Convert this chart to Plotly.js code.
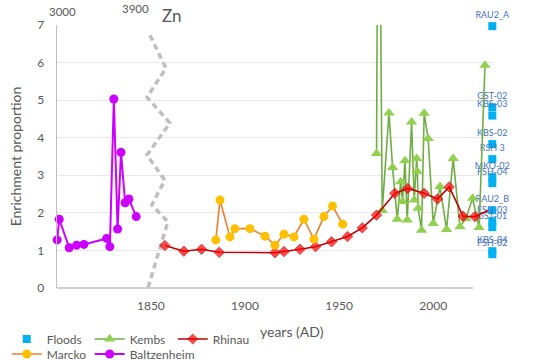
<!DOCTYPE html>
<html>
<head>
<meta charset="utf-8">
<script src="https://cdn.plot.ly/plotly-3.0.1.min.js"></script>
<style>
html,body{margin:0;padding:0;background:#ffffff;}
#chart{width:544px;height:362px;}
</style>
</head>
<body>
<div id="chart"></div>
<script>
// ---- data ----
const xTickVals = [1850, 1900, 1950, 2000];
const xTickText = ['1850', '1900', '1950', '2000'];
const yTickVals = [0, 1, 2, 3, 4, 5, 6, 7];

const floodYear = [2031.4, 2031.4, 2031.4, 2031.4, 2031.4, 2031.4, 2031.4, 2031.4, 2031.4, 2031.4, 2031.4, 2031.4];
const floodVal = [6.97, 4.81, 4.59, 3.83, 3.43, 2.95, 2.79, 2.07, 1.78, 1.62, 0.98, 0.90];
const floodLabel = ['RAU2_A', 'GST-02', 'KBS-03', 'KBS-02', 'RSH 3', 'MKO-02', 'FSH-04', 'RAU2_B', 'FSH-03', 'GST-01', 'KBS-04', 'FSH-02'];

const kembsYear = [1969.9, 1970.9, 1972.9, 1976.5, 1978.4, 1980.9, 1982.7, 1983.7, 1985.0, 1986.2, 1988.5, 1989.9, 1991.2, 1991.6, 1992.0, 1993.8, 1995.2, 1997.3, 2000.0, 2003.6, 2007.1, 2010.6, 2014.2, 2017.4, 2020.9, 2024.4, 2027.5];
const kembsVal = [3.58, 15.0, 2.06, 4.66, 3.21, 1.83, 2.83, 2.30, 3.39, 1.81, 4.42, 2.34, 3.45, 3.10, 2.12, 1.54, 4.65, 3.98, 1.72, 2.70, 1.56, 3.45, 1.63, 1.85, 2.39, 1.61, 5.93];

const rhinauYear = [1857.4, 1867.5, 1876.9, 1886.3, 1915.9, 1920.7, 1929.2, 1937.5, 1946.0, 1954.5, 1962.3, 1969.9, 1979.6, 1986.4, 1995.2, 2002.3, 2008.5, 2015.9, 2022.2, 2029.1];
const rhinauVal = [1.13, 0.98, 1.03, 0.95, 0.94, 0.97, 1.03, 1.10, 1.23, 1.37, 1.60, 1.94, 2.52, 2.65, 2.52, 2.37, 2.69, 1.91, 1.90, 2.06];

const marckoYear = [1884.5, 1886.7, 1892.0, 1894.6, 1902.6, 1910.6, 1915.9, 1920.7, 1926.0, 1931.3, 1936.6, 1941.9, 1946.5, 1951.9];
const marckoVal = [1.28, 2.34, 1.36, 1.58, 1.58, 1.38, 1.14, 1.43, 1.36, 1.83, 1.30, 1.90, 2.18, 1.70];

const baltzYear = [1800.2, 1801.3, 1806.6, 1810.5, 1814.4, 1826.5, 1828.2, 1830.3, 1832.3, 1834.1, 1836.3, 1838.3, 1842.2];
const baltzVal = [1.28, 1.83, 1.07, 1.14, 1.16, 1.32, 1.10, 5.03, 1.57, 3.61, 2.27, 2.37, 1.90];

// axis-break zigzag (decorative)
const breakYear = [1849.5, 1858.0, 1847.9, 1860.1, 1847.9, 1857.4, 1850.5, 1859.0, 1848.4];
const breakVal = [6.73, 5.85, 5.08, 4.39, 3.54, 2.87, 2.21, 1.76, 0.0];

const topLabels = ['3000', '3900'];

// ---- chart ----
const FONT = 'Lato, "Open Sans", "Liberation Sans", sans-serif';
const GREY = '#595959';

const traces = [
  {
    x: breakYear, y: breakVal, mode: 'lines', showlegend: false, hoverinfo: 'skip',
    line: {color: '#BFBFBF', width: 3.5, dash: '6px,4px'}
  },
  {
    name: 'Floods', legend: 'legend', x: floodYear, y: floodVal, text: floodLabel,
    mode: 'markers+text', textposition: 'top center',
    textfont: {family: FONT, size: 9, color: '#4472C4'},
    marker: {symbol: 'square', size: 8, color: '#00B0F0'},
    cliponaxis: false
  },
  {
    name: 'Kembs', legend: 'legend2', x: kembsYear, y: kembsVal, mode: 'lines+markers',
    line: {color: '#70AD47', width: 1.6},
    marker: {symbol: 'triangle-up', size: 10, color: '#92D050'}
  },
  {
    name: 'Rhinau', legend: 'legend3', x: rhinauYear, y: rhinauVal, mode: 'lines+markers',
    line: {color: '#C00000', width: 1.6},
    marker: {symbol: 'diamond', size: rhinauYear.map((_, i) => i === rhinauYear.length - 1 ? 0 : 8), color: '#FF0000'}
  },
  {
    name: 'Marcko', legend: 'legend4', x: marckoYear, y: marckoVal, mode: 'lines+markers',
    line: {color: '#ED7D31', width: 1.6},
    marker: {symbol: 'circle', size: 9, color: '#FFC000'}
  },
  {
    name: 'Baltzenheim', legend: 'legend5', x: baltzYear, y: baltzVal, mode: 'lines+markers',
    line: {color: '#CC00FF', width: 2},
    marker: {symbol: 'circle', size: 9, color: '#CC00FF'},
    cliponaxis: false
  }
];

const legendBase = {
  orientation: 'h', xanchor: 'left', yanchor: 'top',
  font: {family: FONT, size: 12, color: GREY},
  bgcolor: 'rgba(0,0,0,0)', borderwidth: 0, itemwidth: 30
};
const ROW1 = -0.139, ROW2 = -0.196;
const COL1 = -0.115, COL2 = 0.0748, COL3 = 0.2648;

const layout = {
  width: 544, height: 362,
  margin: {l: 57, r: 50, t: 25, b: 74, autoexpand: false},
  paper_bgcolor: '#ffffff', plot_bgcolor: '#ffffff',
  font: {family: FONT, color: GREY, size: 12},
  showlegend: true,
  xaxis: {
    range: [1800.1, 2032.3], tickvals: xTickVals, ticktext: xTickText,
    showgrid: false, zeroline: false, showline: false, ticks: '',
    ticklabelstandoff: 9, tickfont: {family: FONT, size: 12, color: GREY}
  },
  yaxis: {
    range: [0, 7], tickvals: yTickVals,
    showgrid: true, gridcolor: '#E8E8E8', gridwidth: 1,
    showline: true, linecolor: '#BFBFBF', linewidth: 1.3,
    zeroline: false, ticks: '', ticklabelstandoff: 9,
    tickfont: {family: FONT, size: 12, color: GREY},
    title: {text: 'Enrichment proportion', font: {family: FONT, size: 14, color: GREY}, standoff: 12}
  },
  legend: Object.assign({}, legendBase, {x: COL1, y: ROW1}),
  legend2: Object.assign({}, legendBase, {x: COL2, y: ROW1}),
  legend3: Object.assign({}, legendBase, {x: COL3, y: ROW1}),
  legend4: Object.assign({}, legendBase, {x: COL1, y: ROW2}),
  legend5: Object.assign({}, legendBase, {x: COL2, y: ROW2}),
  shapes: [
    {type: 'line', xref: 'paper', yref: 'paper', x0: 0, x1: 0.952, y0: 0, y1: 0,
     line: {color: '#BFBFBF', width: 1.5}, layer: 'below'},
    {type: 'line', xref: 'paper', yref: 'y', x0: 0.003, x1: 1, y0: 7, y1: 7,
     line: {color: '#ffffff', width: 2}, layer: 'between'}
  ],
  annotations: [
    {text: 'years (AD)', xref: 'paper', yref: 'paper', x: 0.537, y: -0.1635,
     xanchor: 'center', yanchor: 'middle', showarrow: false,
     font: {family: FONT, size: 14, color: GREY}},
    {text: topLabels[0], xref: 'paper', yref: 'paper', x: -0.023, y: 1.053,
     xanchor: 'left', yanchor: 'middle', showarrow: false,
     font: {family: FONT, size: 11.5, color: GREY}},
    {text: topLabels[1], xref: 'paper', yref: 'paper', x: 0.179, y: 1.061,
     xanchor: 'center', yanchor: 'middle', showarrow: false,
     font: {family: FONT, size: 11.5, color: GREY}},
    {text: 'Zn', xref: 'paper', yref: 'paper', x: 0.263, y: 1.038,
     xanchor: 'center', yanchor: 'middle', showarrow: false,
     font: {family: FONT, size: 17, color: GREY}}
  ]
};

Plotly.newPlot('chart', traces, layout, {displayModeBar: false, staticPlot: true});
</script>
</body>
</html>
